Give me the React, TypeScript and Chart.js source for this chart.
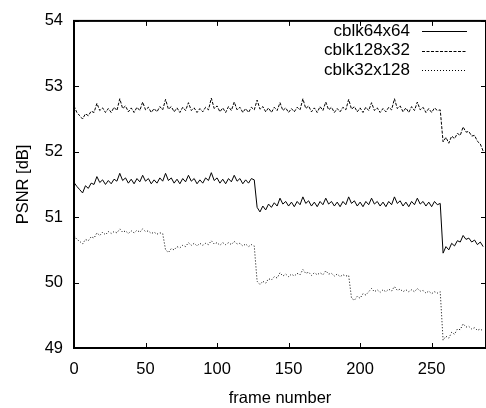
import React, { useEffect, useRef } from "react";
import { Chart, registerables } from "chart.js";

Chart.register(...registerables);

const FONT = '"Liberation Sans", Arial, Helvetica, sans-serif';

const frames = [
  0, 2, 4, 6, 8, 10, 12, 14, 16, 18, 20, 22, 24, 26, 28, 30,
  32, 34, 36, 38, 40, 42, 44, 46, 48, 50, 52, 54, 56, 58, 60, 62,
  64, 66, 68, 70, 72, 74, 76, 78, 80, 82, 84, 86, 88, 90, 92, 94,
  96, 98, 100, 102, 104, 106, 108, 110, 112, 114, 116, 118, 120, 122, 124, 126,
  128, 130, 132, 134, 136, 138, 140, 142, 144, 146, 148, 150, 152, 154, 156, 158,
  160, 162, 164, 166, 168, 170, 172, 174, 176, 178, 180, 182, 184, 186, 188, 190,
  192, 194, 196, 198, 200, 202, 204, 206, 208, 210, 212, 214, 216, 218, 220, 222,
  224, 226, 228, 230, 232, 234, 236, 238, 240, 242, 244, 246, 248, 250, 252, 254,
  256, 258, 260, 262, 264, 266, 268, 270, 272, 274, 276, 278, 280, 282, 284, 286,
];

const cblk64x64 = [
  51.53, 51.47, 51.42, 51.37, 51.48, 51.44, 51.52, 51.50,
  51.62, 51.53, 51.57, 51.50, 51.56, 51.51, 51.58, 51.55,
  51.67, 51.56, 51.60, 51.52, 51.58, 51.51, 51.59, 51.54,
  51.64, 51.55, 51.59, 51.51, 51.57, 51.52, 51.60, 51.55,
  51.67, 51.56, 51.60, 51.52, 51.58, 51.51, 51.59, 51.54,
  51.64, 51.55, 51.59, 51.51, 51.57, 51.52, 51.60, 51.56,
  51.68, 51.56, 51.60, 51.52, 51.58, 51.51, 51.59, 51.54,
  51.64, 51.55, 51.59, 51.51, 51.57, 51.52, 51.59, 51.57,
  51.15, 51.08, 51.17, 51.11, 51.20, 51.15, 51.22, 51.17,
  51.29, 51.20, 51.24, 51.17, 51.23, 51.16, 51.24, 51.19,
  51.31, 51.21, 51.25, 51.17, 51.23, 51.16, 51.24, 51.19,
  51.29, 51.20, 51.24, 51.17, 51.23, 51.16, 51.24, 51.19,
  51.31, 51.21, 51.25, 51.17, 51.23, 51.16, 51.24, 51.19,
  51.29, 51.20, 51.24, 51.17, 51.23, 51.16, 51.24, 51.19,
  51.31, 51.21, 51.25, 51.17, 51.23, 51.16, 51.24, 51.19,
  51.29, 51.20, 51.24, 51.17, 51.23, 51.16, 51.24, 51.19,
  51.21, 50.45, 50.55, 50.50, 50.60, 50.56, 50.64, 50.62,
  50.72, 50.66, 50.68, 50.62, 50.65, 50.58, 50.62, 50.55,
];

const cblk128x32 = [
  52.70, 52.60, 52.55, 52.50, 52.58, 52.55, 52.62, 52.60,
  52.74, 52.63, 52.67, 52.60, 52.66, 52.60, 52.68, 52.63,
  52.81, 52.66, 52.70, 52.61, 52.67, 52.60, 52.68, 52.63,
  52.76, 52.64, 52.68, 52.60, 52.66, 52.61, 52.69, 52.64,
  52.80, 52.65, 52.69, 52.61, 52.67, 52.60, 52.68, 52.63,
  52.75, 52.63, 52.67, 52.60, 52.66, 52.61, 52.68, 52.64,
  52.82, 52.66, 52.70, 52.61, 52.67, 52.60, 52.69, 52.63,
  52.76, 52.64, 52.68, 52.60, 52.66, 52.60, 52.68, 52.64,
  52.79, 52.65, 52.69, 52.61, 52.67, 52.60, 52.68, 52.63,
  52.75, 52.63, 52.67, 52.60, 52.66, 52.61, 52.68, 52.64,
  52.81, 52.66, 52.70, 52.61, 52.67, 52.60, 52.69, 52.63,
  52.76, 52.64, 52.68, 52.60, 52.66, 52.61, 52.68, 52.64,
  52.80, 52.65, 52.69, 52.61, 52.67, 52.60, 52.68, 52.63,
  52.75, 52.63, 52.67, 52.60, 52.66, 52.61, 52.68, 52.64,
  52.81, 52.66, 52.70, 52.61, 52.67, 52.60, 52.69, 52.63,
  52.76, 52.64, 52.68, 52.60, 52.66, 52.60, 52.67, 52.63,
  52.64, 52.15, 52.22, 52.13, 52.24, 52.20, 52.28, 52.25,
  52.38, 52.30, 52.31, 52.24, 52.25, 52.16, 52.12, 52.01,
];

const cblk32x128 = [
  50.72, 50.66, 50.63, 50.59, 50.66, 50.64, 50.70, 50.68,
  50.76, 50.72, 50.77, 50.73, 50.78, 50.75, 50.78, 50.76,
  50.82, 50.77, 50.79, 50.75, 50.79, 50.76, 50.80, 50.77,
  50.82, 50.78, 50.79, 50.75, 50.77, 50.74, 50.76, 50.75,
  50.50, 50.46, 50.52, 50.50, 50.55, 50.53, 50.57, 50.55,
  50.61, 50.57, 50.60, 50.56, 50.60, 50.57, 50.60, 50.58,
  50.64, 50.59, 50.61, 50.57, 50.61, 50.58, 50.61, 50.58,
  50.63, 50.59, 50.60, 50.56, 50.59, 50.55, 50.58, 50.56,
  50.02, 49.97, 50.02, 49.99, 50.06, 50.04, 50.09, 50.07,
  50.15, 50.10, 50.13, 50.09, 50.13, 50.10, 50.14, 50.12,
  50.20, 50.14, 50.16, 50.11, 50.15, 50.12, 50.15, 50.12,
  50.18, 50.13, 50.14, 50.10, 50.13, 50.09, 50.12, 50.10,
  50.11, 49.76, 49.73, 49.79, 49.76, 49.83, 49.81, 49.86,
  49.91, 49.86, 49.89, 49.85, 49.89, 49.86, 49.90, 49.87,
  49.94, 49.88, 49.90, 49.86, 49.89, 49.86, 49.89, 49.86,
  49.91, 49.87, 49.88, 49.84, 49.87, 49.83, 49.86, 49.84,
  49.86, 49.12, 49.18, 49.15, 49.24, 49.21, 49.29, 49.28,
  49.37, 49.32, 49.33, 49.29, 49.31, 49.27, 49.29, 49.26,
];

const xTicks = [0, 50, 100, 150, 200, 250];
const yTicks = [49, 50, 51, 52, 53, 54];
const seriesNames = ["cblk64x64", "cblk128x32", "cblk32x128"];
const seriesDash: number[][] = [[], [3, 1.5], [1, 2]];

export default function App() {
  const ref = useRef<HTMLCanvasElement>(null);

  useEffect(() => {
    document.body.style.margin = "0";
    const canvas = ref.current;
    if (!canvas) return;

    const boxPlugin = {
      id: "gnuplotBox",
      afterDraw(chart: any) {
        const { ctx, chartArea: a, scales } = chart;
        const sx = scales.x;
        const sy = scales.y;
        ctx.save();
        ctx.strokeStyle = "#000";
        ctx.setLineDash([]);
        ctx.lineWidth = 2;
        ctx.strokeRect(a.left, a.top, a.right - a.left, a.bottom - a.top);
        ctx.lineWidth = 1;
        const tl = 5;
        ctx.beginPath();
        xTicks.forEach((v) => {
          const px = Math.round(sx.getPixelForValue(v)) + 0.5;
          ctx.moveTo(px, a.bottom);
          ctx.lineTo(px, a.bottom - tl);
          ctx.moveTo(px, a.top);
          ctx.lineTo(px, a.top + tl);
        });
        yTicks.forEach((v) => {
          const py = Math.round(sy.getPixelForValue(v)) + 0.5;
          ctx.moveTo(a.left, py);
          ctx.lineTo(a.left + tl, py);
          ctx.moveTo(a.right, py);
          ctx.lineTo(a.right - tl, py);
        });
        ctx.stroke();

        // legend (gnuplot style: text right-aligned, sample on the right)
        const rows = [31, 50.5, 70];
        ctx.font = `17px ${FONT}`;
        ctx.fillStyle = "#000";
        ctx.textAlign = "right";
        ctx.textBaseline = "middle";
        seriesNames.forEach((name, i) => {
          const y = rows[i];
          ctx.fillText(name, 410, y);
          ctx.beginPath();
          ctx.setLineDash(seriesDash[i]);
          ctx.lineWidth = 1;
          ctx.moveTo(422, Math.round(y) + 0.5);
          ctx.lineTo(467, Math.round(y) + 0.5);
          ctx.stroke();
        });
        ctx.restore();
      },
    };

    const series = [cblk64x64, cblk128x32, cblk32x128];
    const chart = new Chart(canvas, {
      type: "line",
      data: {
        datasets: series.map((vals, i) => ({
          label: seriesNames[i],
          data: frames.map((f, k) => ({ x: f, y: vals[k] })),
          borderColor: "#000",
          borderWidth: 1,
          borderDash: seriesDash[i],
          pointRadius: 0,
          tension: 0,
          fill: false,
        })),
      },
      options: {
        animation: false,
        responsive: false,
        devicePixelRatio: 1,
        layout: { padding: { top: 15, right: 0, bottom: 0, left: 0 } },
        plugins: {
          legend: { display: false },
          tooltip: { enabled: false },
        },
        scales: {
          x: {
            type: "linear",
            min: 0,
            max: 288,
            afterBuildTicks: (scale: any) => {
              scale.ticks = xTicks.map((v) => ({ value: v }));
            },
            afterFit: (scale: any) => {
              scale.height = 60;
            },
            grid: { display: false, drawTicks: false },
            border: { display: false },
            ticks: {
              color: "#000",
              padding: 12,
              maxRotation: 0,
              font: { family: FONT, size: 16.5 },
            },
            title: {
              display: true,
              text: "frame number",
              color: "#000",
              font: { family: FONT, size: 16.5 },
              padding: { top: 0, bottom: 0 },
            },
          },
          y: {
            type: "linear",
            min: 49,
            max: 54,
            afterBuildTicks: (scale: any) => {
              scale.ticks = yTicks.map((v) => ({ value: v }));
            },
            afterFit: (scale: any) => {
              scale.width = 74;
            },
            grid: { display: false, drawTicks: false },
            border: { display: false },
            ticks: {
              color: "#000",
              padding: 11,
              font: { family: FONT, size: 16.5 },
            },
            title: {
              display: true,
              text: "PSNR [dB]",
              color: "#000",
              font: { family: FONT, size: 16.5 },
              padding: { top: 14, bottom: 0 },
            },
          },
        },
      },
      plugins: [boxPlugin],
    });

    return () => chart.destroy();
  }, []);

  return (
    <div style={{ width: 486, height: 408, background: "#fff" }}>
      <canvas ref={ref} width={486} height={408} style={{ display: "block" }} />
    </div>
  );
}
